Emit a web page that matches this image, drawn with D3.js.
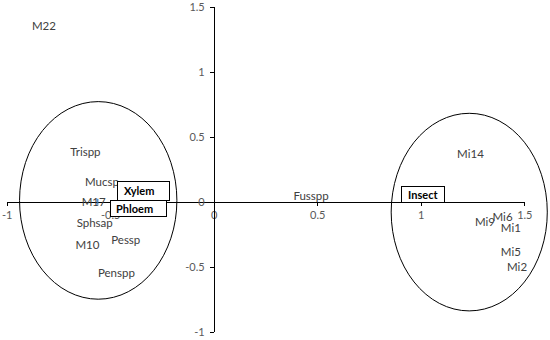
<!DOCTYPE html>
<html lang="en">
<head>
<meta charset="utf-8">
<title>Ordination plot</title>
<style>
  body, html { margin: 0; padding: 0; background: #fff; }
  svg { display: block; }
  text { font-family: Lato, "Open Sans", sans-serif; }
  .axis path, .axis line { stroke: #000; stroke-width: 1px; shape-rendering: crispEdges; }
  .axis text { font-size: 11px; fill: #595959; }
  .pt { font-size: 11.5px; fill: #404040; }
  .grp text { font-size: 11px; font-weight: bold; fill: #000; }
  .grp rect { fill: #fff; stroke: #000; stroke-width: 1px; shape-rendering: crispEdges; }
  ellipse { fill: none; stroke: #000; stroke-width: 1px; }
</style>
<script src="https://d3js.org/d3.v7.min.js"></script>
</head>
<body>
<svg id="chart" width="550" height="340"></svg>
<script>
// point labels and their coordinates
var names = ["M22", "Trispp", "Mucsp", "M17", "Sphsap", "M10", "Pessp", "Penspp",
             "Fusspp", "Mi14", "Mi9", "Mi6", "Mi1", "Mi5", "Mi2"];
var xVals = [-0.82, -0.62, -0.54, -0.58, -0.575, -0.61, -0.425, -0.47,
             0.47, 1.24, 1.31, 1.395, 1.435, 1.435, 1.465];
var yVals = [1.35, 0.38, 0.15, 0.0, -0.165, -0.33, -0.295, -0.545,
             0.045, 0.37, -0.155, -0.115, -0.2, -0.39, -0.5];

var xTicks = [-1, -0.5, 0, 0.5, 1, 1.5];
var yTicks = [-1, -0.5, 0, 0.5, 1, 1.5];

// group boxes (centres, data units)
var groups = ["Xylem", "Phloem", "Insect"];
var groupX = [-0.341, -0.363, 1.01];
var groupY = [0.08, -0.055, 0.054];

// ellipses round the clusters (data units)
var ellCx = [-0.558, 1.234];
var ellCy = [0.01, -0.08];
var ellRx = [0.38, 0.377];
var ellRy = [0.76, 0.76];

// the lone marker sitting on M17
var markX = [-0.56];
var markY = [0];

var boxSize = { Xylem: [52, 19], Phloem: [56, 16], Insect: [43, 16] };

var svg = d3.select("#chart");

var x = d3.scaleLinear().domain([-1, 1.5]).range([6.7, 524.3]);
var y = d3.scaleLinear().domain([-1, 1.5]).range([331.7, 6.7]);

var fmt = function(d) { return String(d); };

svg.append("g")
    .attr("class", "axis")
    .attr("transform", "translate(0," + y(0) + ")")
    .call(d3.axisBottom(x).tickValues(xTicks).tickSize(4).tickSizeOuter(0)
            .tickPadding(6).tickFormat(fmt));

svg.append("g")
    .attr("class", "axis")
    .attr("transform", "translate(" + x(0) + ",0)")
    .call(d3.axisLeft(y).tickValues(yTicks).tickSize(4).tickSizeOuter(0)
            .tickPadding(5).tickFormat(fmt));

svg.selectAll("text.pt")
    .data(names)
    .enter().append("text")
    .attr("class", "pt")
    .attr("x", function(d, i) { return x(xVals[i]); })
    .attr("y", function(d, i) { return y(yVals[i]); })
    .attr("dy", "0.35em")
    .attr("text-anchor", "middle")
    .text(function(d) { return d; });

svg.selectAll("line.mark")
    .data(markX)
    .enter().append("line")
    .attr("class", "mark")
    .attr("x1", function(d) { return x(d); })
    .attr("x2", function(d) { return x(d); })
    .attr("y1", function(d, i) { return y(markY[i]) - 3; })
    .attr("y2", function(d, i) { return y(markY[i]) + 3; })
    .attr("stroke", "#2e75b6")
    .attr("stroke-width", 1.2);

var grp = svg.selectAll("g.grp")
    .data(groups)
    .enter().append("g")
    .attr("class", "grp")
    .attr("transform", function(d, i) {
        return "translate(" + x(groupX[i]) + "," + y(groupY[i]) + ")";
    });

grp.append("rect")
    .attr("x", function(d) { return -boxSize[d][0] / 2; })
    .attr("y", function(d) { return -boxSize[d][1] / 2; })
    .attr("width", function(d) { return boxSize[d][0]; })
    .attr("height", function(d) { return boxSize[d][1]; });

grp.append("text")
    .attr("x", function(d) { return d === "Insect" ? 0 : -4; })
    .attr("dy", "0.35em")
    .attr("text-anchor", "middle")
    .text(function(d) { return d; });

svg.selectAll("ellipse")
    .data(ellCx)
    .enter().append("ellipse")
    .attr("cx", function(d) { return x(d); })
    .attr("cy", function(d, i) { return y(ellCy[i]); })
    .attr("rx", function(d, i) { return x(d + ellRx[i]) - x(d); })
    .attr("ry", function(d, i) { return y(0) - y(ellRy[i]); });
</script>
</body>
</html>
